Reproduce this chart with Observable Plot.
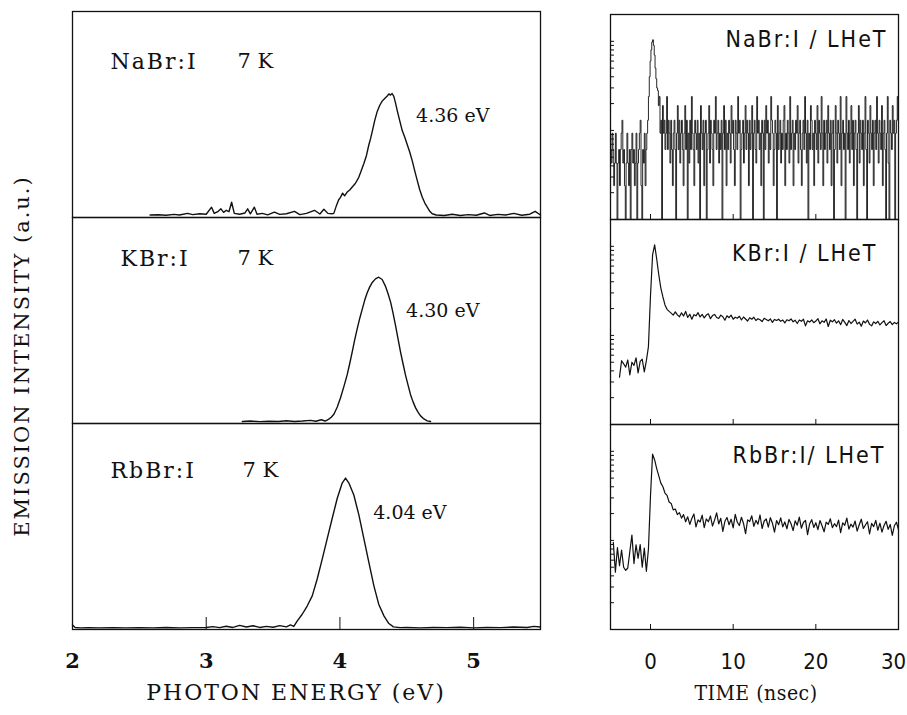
<!DOCTYPE html>
<html><head><meta charset="utf-8">
<script src="https://cdn.jsdelivr.net/npm/d3@7"></script>
<script src="https://cdn.jsdelivr.net/npm/@observablehq/plot@0.6"></script>
<style>
body{margin:0;background:#fff;}
#wrap{position:relative;width:907px;height:715px;overflow:hidden;background:#fff;}
#left{position:absolute;left:0;top:0;}
#right{position:absolute;left:560px;top:0;}
#ytitle{position:absolute;left:22px;top:356px;transform:translate(-50%,-50%) rotate(-90deg);white-space:nowrap;font-family:"DejaVu Serif",serif;font-size:21px;letter-spacing:2px;color:#111;}
.cond text{font-stretch:condensed;}
</style></head><body>
<div id="wrap"><div id="left"></div><div id="right"></div><div id="ytitle">EMISSION INTENSITY (a.u.)</div></div>
<script>
// ---------- labels ----------
const crystals = ["NaBr:I", "KBr:I", "RbBr:I"];
const temperatures = ["7 K", "7 K", "7 K"];
const peakEnergies = [4.36, 4.30, 4.04];
const peakLabels = ["4.36 eV", "4.30 eV", "4.04 eV"];
const decayLabels = ["NaBr:I / LHeT", "KBr:I / LHeT", "RbBr:I/ LHeT"];
const energyTicks = [2, 3, 4, 5];
const timeTicks = [0, 10, 20, 30];
const logTicks = [2, 3, 4, 5, 6, 7, 8, 9, 10, 20, 30, 40, 50, 60, 70, 80, 90, 100];

// ---------- emission spectra (photon energy eV, intensity a.u.) ----------
const nabrE = [2.58,2.64,2.70,2.76,2.80,2.86,2.90,2.95,3.00,3.04,3.06,3.09,3.11,3.13,3.15,3.17,3.19,3.21,3.25,3.29,3.31,3.33,3.36,3.38,3.42,3.46,3.51,3.55,3.60,3.66,3.70,3.75,3.81,3.85,3.88,3.91,3.94,
  3.954,3.975,3.99,4.004,4.02,4.035,4.055,4.075,4.092,4.115,4.141,4.16,4.179,4.198,4.216,4.23,4.242,4.26,4.279,4.298,4.316,4.335,4.354,4.366,4.378,4.39,4.403,4.416,4.429,4.447,4.466,4.485,4.503,4.522,4.541,4.56,4.578,4.597,4.616,4.635,4.653,4.672,4.69,
  4.72,4.78,4.84,4.90,4.96,5.02,5.08,5.12,5.18,5.24,5.30,5.36,5.42,5.46,5.50];
const nabrI = [0.012,0.013,0.011,0.015,0.012,0.020,0.014,0.018,0.016,0.050,0.020,0.030,0.042,0.025,0.035,0.028,0.074,0.020,0.016,0.022,0.042,0.018,0.050,0.016,0.020,0.013,0.026,0.015,0.018,0.030,0.014,0.020,0.035,0.017,0.040,0.020,0.018,
  0.020,0.060,0.085,0.098,0.118,0.105,0.124,0.135,0.148,0.165,0.195,0.228,0.262,0.300,0.352,0.385,0.418,0.470,0.515,0.545,0.565,0.578,0.590,0.600,0.594,0.602,0.588,0.555,0.518,0.470,0.422,0.390,0.354,0.318,0.275,0.225,0.180,0.135,0.098,0.070,0.050,0.030,0.018,
  0.012,0.010,0.016,0.010,0.014,0.011,0.022,0.010,0.015,0.012,0.020,0.011,0.016,0.030,0.012];

const kbrE = [3.27,3.33,3.40,3.47,3.54,3.60,3.66,3.72,3.78,3.82,3.86,3.89,3.917,3.935,3.955,
  3.98,4.004,4.03,4.054,4.073,4.092,4.11,4.129,4.148,4.167,4.185,4.204,4.222,4.24,4.266,4.29,4.316,4.34,4.36,4.38,4.398,4.416,4.435,4.453,4.472,4.49,4.51,4.528,4.547,4.565,4.584,4.603,4.628,4.653,4.678];
const kbrI = [0.010,0.012,0.009,0.011,0.010,0.013,0.010,0.012,0.015,0.011,0.018,0.012,0.021,0.030,0.045,
  0.080,0.124,0.180,0.236,0.290,0.348,0.405,0.459,0.510,0.555,0.598,0.635,0.662,0.683,0.702,0.710,0.699,0.667,0.630,0.587,0.533,0.475,0.410,0.348,0.290,0.236,0.185,0.140,0.105,0.077,0.055,0.037,0.022,0.013,0.010];

const rbbrE = [2.00,2.02,2.06,2.12,2.20,2.30,2.40,2.50,2.60,2.70,2.80,2.90,3.00,3.05,3.10,3.15,3.20,3.25,3.30,3.35,3.40,3.45,3.50,3.55,3.60,3.63,3.655,
  3.68,3.718,3.755,3.793,3.83,3.868,3.905,3.942,3.98,4.017,4.042,4.067,4.104,4.142,4.179,4.216,4.254,4.29,4.33,4.366,4.40,
  4.45,4.50,4.60,4.70,4.80,4.90,5.00,5.10,5.20,5.30,5.40,5.45,5.50];
const rbbrI = [0.022,0.010,0.008,0.009,0.008,0.009,0.008,0.009,0.008,0.010,0.008,0.009,0.010,0.014,0.009,0.016,0.010,0.020,0.012,0.018,0.010,0.015,0.011,0.019,0.013,0.022,0.015,
  0.041,0.074,0.114,0.163,0.245,0.343,0.441,0.539,0.637,0.711,0.735,0.711,0.653,0.555,0.441,0.327,0.212,0.123,0.065,0.029,0.013,
  0.009,0.010,0.008,0.010,0.009,0.011,0.008,0.010,0.009,0.012,0.010,0.015,0.012];

// ---------- decay curves (time channels, counts on log scale) ----------
const nabrT0 = -4.8, nabrDt = 0.1;
const nabrDecay = [
  6.1,4.3,9.3,6.1,2.4,4.3,9.3,4.3,1,4.3,6.1,2.4,6.1,9.3,13,4.3,6.1,2.4,1,4.3,
  9.3,4.3,2.4,6.1,1,6.1,9.3,4.3,6.1,2.4,4.3,9.3,1,4.3,6.1,9.3,13,2.4,1,6.1,4.3,9.3,2.4,6.1,
  9.3,13,24,40,60,80,98,104,90,70,50,38,30,28,19,24,9.3,13,1,19,
  9.3,13,6.1,9.3,24,6.1,13,9.3,4.3,13,6.1,2.4,9.3,13,6.1,1,9.3,19,6.1,13,
  4.3,9.3,13,6.1,2.4,9.3,19,6.1,13,1,9.3,4.3,13,6.1,24,9.3,6.1,2.4,13,9.3,
  6.1,13,4.3,9.3,1,19,9.3,6.1,13,2.4,9.3,13,1,6.1,9.3,19,4.3,13,9.3,6.1,
  2.4,13,9.3,24,6.1,9.3,13,4.3,9.3,6.1,13,1,9.3,19,6.1,13,2.4,9.3,6.1,13,
  9.3,4.3,19,9.3,13,6.1,2.4,13,9.3,6.1,24,9.3,13,1,6.1,9.3,13,4.3,9.3,19,
  6.1,13,9.3,2.4,13,6.1,9.3,19,1,9.3,13,6.1,4.3,24,9.3,13,6.1,9.3,2.4,13,
  9.3,1,13,6.1,19,9.3,13,4.3,9.3,6.1,24,13,9.3,2.4,6.1,13,9.3,1,19,6.1,
  9.3,13,4.3,9.3,6.1,13,19,2.4,9.3,6.1,13,9.3,4.3,24,6.1,9.3,13,2.4,9.3,6.1,
  13,9.3,19,4.3,9.3,13,6.1,2.4,9.3,13,6.1,24,9.3,4.3,13,1,9.3,6.1,19,13,
  6.1,9.3,2.4,13,9.3,6.1,19,4.3,13,9.3,6.1,24,9.3,2.4,13,6.1,9.3,13,4.3,19,
  9.3,6.1,13,2.4,9.3,13,1,6.1,19,9.3,4.3,13,9.3,6.1,24,2.4,9.3,13,6.1,9.3,
  1,24,9.3,6.1,13,4.3,9.3,19,6.1,13,2.4,9.3,13,6.1,1,9.3,19,4.3,13,9.3,
  6.1,13,2.4,9.3,24,6.1,1,13,9.3,4.3,19,9.3,6.1,13,2.4,9.3,13,6.1,24,9.3,
  4.3,13,9.3,6.1,19,2.4,9.3,13,6.1,1,9.3,24,4.3,1,13,9.3,6.1,19,9.3,13,
  1,9.3,13,24,13];

const kbrT0 = -3.75, kbrDt = 0.25;
const kbrDecay = [3.4,5.2,4.8,4.4,5.3,3.6,5.0,4.6,5.6,3.8,5.1,5.4,3.9,5.2,
  7.5,28,80,104,72,48,34,27,22,19.6,18.6,
  17.8,16.9,18.4,17.0,16.2,17.9,16.5,18.6,15.9,17.3,
  15.2,17.1,16.6,18.0,16.1,17.2,15.7,16.9,17.5,15.4,
  16.7,17.2,15.9,15.5,16.9,16.2,14.8,16.6,15.8,16.9,
  15.2,16.0,15.6,16.4,14.9,16.1,15.3,14.5,15.8,15.2,
  16.0,14.7,15.4,15.0,14.3,15.6,15.1,14.6,15.3,14.0,
  15.1,14.7,15.2,14.4,14.9,13.8,15.0,14.6,15.3,14.2,
  14.8,13.6,14.9,14.4,15.2,12.8,14.6,14.1,14.9,13.9,
  14.5,15.4,13.5,14.6,14.0,15.3,12.6,14.8,14.2,15.0,
  13.7,14.6,13.2,15.1,14.0,12.9,14.7,13.6,14.4,15.2,
  13.4,14.1,12.7,14.5,13.8,14.9,13.3,12.8,14.2,13.6,
  14.4,13.1,13.9,14.6,12.9,13.7,14.3,13.2,14.0,13.5,
  14.1];

const rbbrT0 = -4.5, rbbrDt = 0.25;
const rbbrDecay = [9.5,4.4,8.3,5.2,7.8,5.0,4.6,4.9,7.5,11.5,5.5,8.9,6.3,9.0,5.0,8.2,4.5,
  8,32,93,80,64,53,44,40,34,32,27,26,22,22.5,19.5,20.5,17.8,19.5,16.2,
  18.4,15.1,17.6,19.8,14.2,17.0,16.1,19.2,13.9,17.4,
  16.2,18.8,14.5,16.9,20.4,15.3,17.7,12.6,16.4,18.1,
  15.0,17.3,13.8,19.6,16.0,14.7,18.2,15.5,11.9,17.0,
  16.3,18.9,14.4,16.8,15.2,19.3,13.6,16.5,17.4,14.1,
  18.0,15.6,12.4,16.7,15.0,17.9,14.2,16.1,13.5,17.2,
  15.4,12.9,16.6,14.8,18.3,13.7,15.9,16.8,11.6,15.3,
  17.1,14.0,15.8,13.2,16.7,14.6,12.5,16.0,15.1,17.5,
  13.9,15.4,14.3,16.9,12.2,15.7,14.8,17.8,13.4,15.2,
  14.1,16.5,12.7,15.0,17.3,13.6,14.9,16.2,11.8,15.5,
  14.3,16.8,13.0,15.6,12.4,14.7,16.4,13.3,15.1,11.4,
  14.6,16.0,13.2];

// ---------- tables ----------
const spectra = [[nabrE, nabrI], [kbrE, kbrI], [rbbrE, rbbrI]];
const specRows = spectra.flatMap(([E, I], k) => E.map((e, j) => ({panel: crystals[k], E: e, I: I[j]})));
const decays = [[nabrT0, nabrDt, nabrDecay], [kbrT0, kbrDt, kbrDecay], [rbbrT0, rbbrDt, rbbrDecay]];
const decayRows = decays.map(([t0, dt, v], k) => v.map((c, j) => ({panel: crystals[k], t: t0 + j * dt, c})));
const panels = crystals.map((c, k) => ({panel: c, temp: temperatures[k], peak: peakEnergies[k], peakLabel: peakLabels[k], decayLabel: decayLabels[k]}));

const serif = "DejaVu Serif, Liberation Serif, serif";
const cond = "DejaVu Sans Condensed, DejaVu Sans, Liberation Sans, sans-serif";

// per-panel label offsets (pixels, centre of text from top of each panel)
const nameOff = [[38, 50], [48, 41], [38, 47]];
const tempOff = [165, 165, 170];
const peakOff = [[28, 104], [26, 93], [28, 89]];
const decOff = [[-11, 25], [-21, 34], [-13, 31]];

const leftMarks = [
  Plot.frame({stroke: "#111", strokeWidth: 1.3}),
  Plot.line(specRows, {x: "E", y: "I", fy: "panel", stroke: "#111", strokeWidth: 1.4}),
  Plot.axisX({ticks: [3, 4, 5], tickSize: -12, tickFormat: () => "", label: null, stroke: "#111"}),
  Plot.axisX({ticks: energyTicks, tickSize: 0, tickPadding: 24, tickFormat: d => String(d), fontSize: 21, fontWeight: "bold", fontFamily: serif, fill: "#111", label: null}),
];
panels.forEach((p, k) => {
  leftMarks.push(Plot.text([p], {fy: "panel", text: "panel", frameAnchor: "top-left", textAnchor: "start", lineAnchor: "middle", dx: nameOff[k][0], dy: nameOff[k][1], fontSize: 22, fontFamily: serif, fill: "#111"}));
  leftMarks.push(Plot.text([p], {fy: "panel", text: "temp", frameAnchor: "top-left", textAnchor: "start", lineAnchor: "middle", dx: tempOff[k], dy: nameOff[k][1], fontSize: 21, fontFamily: serif, fill: "#111"}));
  leftMarks.push(Plot.text([p], {fy: "panel", x: "peak", text: "peakLabel", frameAnchor: "top", textAnchor: "start", lineAnchor: "middle", dx: peakOff[k][0], dy: peakOff[k][1], fontSize: 19, fontFamily: serif, fill: "#111"}));
});

const left = Plot.plot({
  width: 560, height: 715,
  marginLeft: 72, marginRight: 20, marginTop: 10, marginBottom: 85,
  x: {domain: [2, 5.5]},
  y: {domain: [0, 1], axis: null},
  fy: {domain: crystals, padding: 0, axis: null},
  style: {background: "#fff", color: "#111"},
  marks: leftMarks
});
left.querySelectorAll("text").forEach(t => {
  if (crystals.includes(t.textContent)) t.style.letterSpacing = "2px";
});
document.getElementById("left").appendChild(left);

const rightMarks = [
  Plot.frame({stroke: "#111", strokeWidth: 1.3}),
  Plot.line(decayRows[0], {x: "t", y: "c", fy: "panel", curve: "step", stroke: "#111", strokeWidth: 0.9, clip: true}),
  Plot.line(decayRows[1], {x: "t", y: "c", fy: "panel", stroke: "#111", strokeWidth: 1.2, clip: true}),
  Plot.line(decayRows[2], {x: "t", y: "c", fy: "panel", stroke: "#111", strokeWidth: 1.2, clip: true}),
  Plot.axisY({ticks: logTicks, tickSize: -4, tickFormat: () => "", label: null, stroke: "#111"}),
  Plot.axisX({ticks: timeTicks, tickSize: -5, tickFormat: () => "", label: null, facetAnchor: null, stroke: "#111"}),
  Plot.axisX({ticks: timeTicks.slice(0, 3), tickSize: 0, tickPadding: 24, tickFormat: d => String(d), fontSize: 22, fontFamily: cond, fill: "#111", label: null}),
  Plot.axisX({ticks: timeTicks.slice(3), tickSize: 0, tickPadding: 24, tickFormat: d => String(d), fontSize: 22, fontFamily: cond, fill: "#111", label: null, dx: -5}),
];
panels.forEach((p, k) => {
  rightMarks.push(Plot.text([p], {fy: "panel", text: "decayLabel", frameAnchor: "top-right", textAnchor: "end", lineAnchor: "middle", dx: decOff[k][0], dy: decOff[k][1], fontSize: 23, fontFamily: cond, fill: "#111"}));
});

const right = Plot.plot({
  width: 347, height: 715,
  marginLeft: 50, marginRight: 9, marginTop: 13, marginBottom: 85,
  x: {domain: [-4.84, 30]},
  y: {type: "log", domain: [1, 200], axis: null},
  fy: {domain: crystals, padding: 0, axis: null},
  style: {background: "#fff", color: "#111"},
  marks: rightMarks
});
right.classList.add("cond");
right.querySelectorAll("text").forEach(t => {
  if (decayLabels.includes(t.textContent)) t.style.letterSpacing = "2px";
});
document.getElementById("right").appendChild(right);

// axis titles as real text inside the svgs
const ns = "http://www.w3.org/2000/svg";
function addTitle(svg, str, x, y, size, spacing, stretch) {
  const t = document.createElementNS(ns, "text");
  t.setAttribute("x", x); t.setAttribute("y", y);
  t.setAttribute("text-anchor", "middle");
  t.setAttribute("font-family", serif);
  t.setAttribute("font-size", size);
  t.setAttribute("fill", "#111");
  t.style.letterSpacing = spacing + "px";
  t.style.fontStretch = stretch;
  t.textContent = str;
  svg.appendChild(t);
}
addTitle(left, "PHOTON ENERGY (eV)", 296, 700, 22, 2, "normal");
addTitle(right, "TIME (nsec)", 196, 700, 21, 0.5, "condensed");
</script>
</body></html>
